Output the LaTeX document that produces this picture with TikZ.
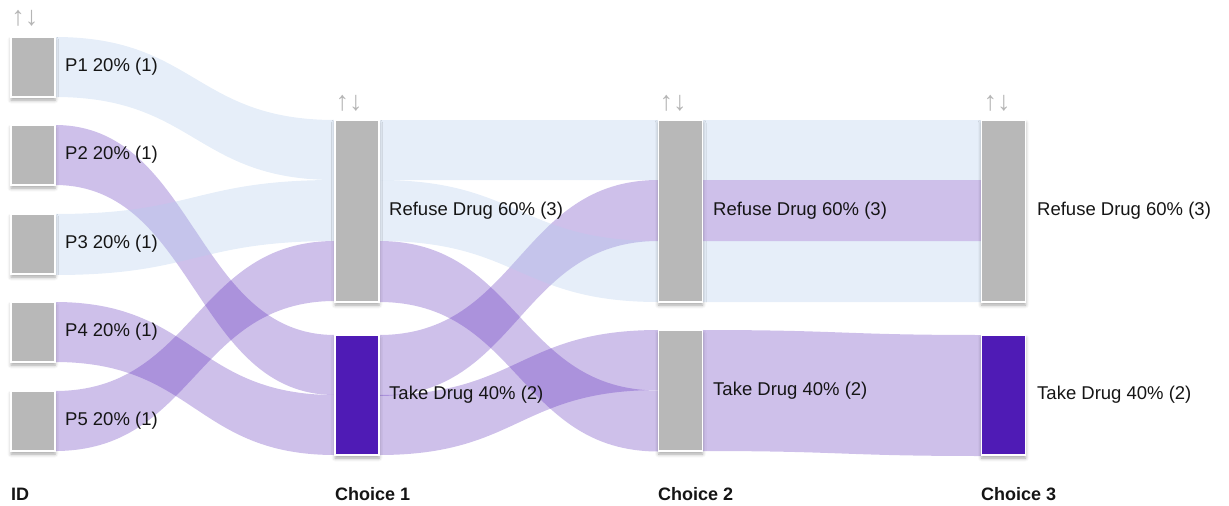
\documentclass[tikz,border=0pt]{standalone}
\usepackage{fontspec}
\setmainfont{Liberation Sans}
\usetikzlibrary{calc,backgrounds,shadows.blur}
\definecolor{bargray}{HTML}{B8B8B8}
\definecolor{darkpurple}{HTML}{4F1BB5}
\definecolor{flowpurple}{HTML}{4F1BB5}
\definecolor{flowblue}{RGB}{181,205,237}
\definecolor{txt}{HTML}{151515}
\definecolor{icongray}{HTML}{B5B5B5}
\tikzset{
  bar/.style={rectangle, draw=white, line width=1.2pt, fill=bargray,
    minimum width=44pt, inner sep=0pt, outer sep=0pt,
    blur shadow={shadow xshift=0pt, shadow yshift=-3pt, shadow blur radius=3.5pt, shadow opacity=35}},
  darkbar/.style={bar, fill=darkpurple},
  lbl/.style={anchor=west, font=\fontsize{18.5}{22}\selectfont, text=txt, inner sep=0pt},
  hdr/.style={anchor=west, font=\bfseries\fontsize{18}{22}\selectfont, text=txt, inner sep=0pt},
  sortic/.style={font=\fontsize{27}{30}\selectfont, text=icongray, inner sep=0pt},
  pflow/.style={fill=flowpurple, fill opacity=0.28},
  bflow/.style={fill=flowblue, fill opacity=0.34},
}
% #1 source node, #2 offset from its top, #3 target node, #4 offset from its top, #5 width, #6 style
\newcommand\band[6]{%
  \fill[#6] let \p1=($(#1.north east)+(0,#2)$), \p2=($(#3.north west)+(0,#4)$),
    \p3=($(\p1)!0.5!(\p2)$) in
    (\p1) .. controls (\x3,\y1) and (\x3,\y2) .. (\p2)
    -- (\x2,{\y2-#5pt}) .. controls (\x3,{\y2-#5pt}) and (\x3,{\y1-#5pt}) .. (\x1,{\y1-#5pt}) -- cycle;}
\begin{document}
\begin{tikzpicture}[x=1pt,y=-1pt]
\useasboundingbox (0,0) rectangle (1229,506);
% ID column
\node[bar, minimum height=60pt] (p1) at (33,67) {};
\node[bar, minimum height=60pt] (p2) at (33,155) {};
\node[bar, minimum height=60pt] (p3) at (33,244) {};
\node[bar, minimum height=60pt] (p4) at (33,332) {};
\node[bar, minimum height=60pt] (p5) at (33,421) {};
% Choice 1
\node[bar, minimum height=182pt] (r1) at (357,211) {};
\node[darkbar, minimum height=120pt] (t1) at (357,395) {};
% Choice 2
\node[bar, minimum height=182pt] (r2) at (680.5,211) {};
\node[bar, minimum height=121pt] (t2) at (680.5,390.5) {};
% Choice 3
\node[bar, minimum height=182pt] (r3) at (1003.5,211) {};
\node[darkbar, minimum height=120pt] (t3) at (1003.5,395) {};

\begin{pgfonlayer}{background}
  % purple flows
  \band{p5}{0}{r1}{121}{60}{pflow}
  \band{p2}{0}{t1}{0}{60}{pflow}
  \band{p4}{0}{t1}{60}{60}{pflow}
  \band{r1}{121}{t2}{60.5}{61}{pflow}
  \band{t1}{0}{r2}{60}{61}{pflow}
  \band{t1}{60}{t2}{0}{60}{pflow}
  \band{r2}{60}{r3}{60}{61}{pflow}
  \band{t2}{0}{t3}{0}{121}{pflow}
  % blue flows
  \band{p1}{0}{r1}{0}{60}{bflow}
  \band{p3}{0}{r1}{60}{61}{bflow}
  \band{r1}{0}{r2}{0}{60}{bflow}
  \band{r1}{60}{r2}{121}{61}{bflow}
  \band{r2}{0}{r3}{0}{60}{bflow}
  \band{r2}{121}{r3}{121}{61}{bflow}
\end{pgfonlayer}

% labels
\node[lbl] (lp1) at (65,67) {P1 20\% (1)};
\node[lbl] (lp2) at (65,155) {P2 20\% (1)};
\node[lbl] (lp3) at (65,244) {P3 20\% (1)};
\node[lbl] (lp4) at (65,332) {P4 20\% (1)};
\node[lbl] (lp5) at (65,421) {P5 20\% (1)};
\node[lbl] (lr1) at (389,211) {Refuse Drug 60\% (3)};
\node[lbl] (lt1) at (389,395) {Take Drug 40\% (2)};
\node[lbl] (lr2) at (713,211) {Refuse Drug 60\% (3)};
\node[lbl] (lt2) at (713,391) {Take Drug 40\% (2)};
\node[lbl] (lr3) at (1037,211) {Refuse Drug 60\% (3)};
\node[lbl] (lt3) at (1037,395) {Take Drug 40\% (2)};
% headers
\node[hdr] (h0) at (11,494) {ID};
\node[hdr] (h1) at (335,494) {Choice 1};
\node[hdr] (h2) at (658,494) {Choice 2};
\node[hdr] (h3) at (981,494) {Choice 3};
% sort icons
\node[sortic] (s0) at (25,18) {↑↓};
\node[sortic] (s1) at (349,103) {↑↓};
\node[sortic] (s2) at (673,103) {↑↓};
\node[sortic] (s3) at (997,103) {↑↓};
\end{tikzpicture}
\end{document}
